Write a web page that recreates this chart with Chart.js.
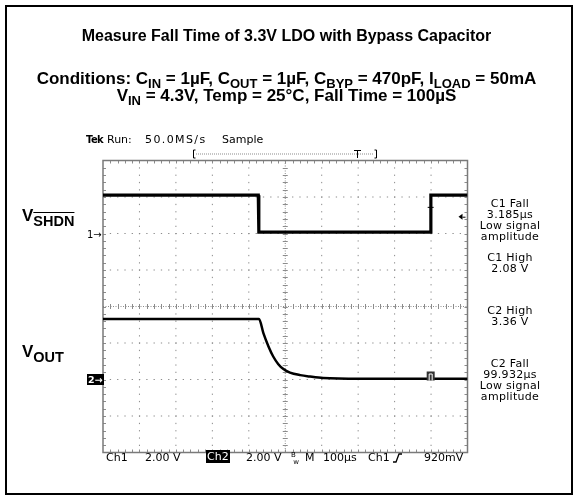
<!DOCTYPE html>
<html>
<head>
<meta charset="utf-8">
<script src="https://cdn.jsdelivr.net/npm/chart.js@4.4.1/dist/chart.umd.min.js"></script>
<style>
html,body{margin:0;padding:0;background:#fff;}
#wrap{position:relative;width:573px;height:495px;overflow:hidden;}
#frame{position:absolute;left:5px;top:5px;width:568px;height:490px;border:2px solid #000;box-sizing:border-box;}
canvas{position:absolute;left:0;top:0;}
.h{position:absolute;left:0;width:573px;text-align:center;white-space:nowrap;font-family:"Liberation Sans",Arial,sans-serif;font-weight:bold;color:#000;line-height:18px;}
.h sub{font-size:13px;vertical-align:-4px;line-height:0;}
.lbl{position:absolute;white-space:nowrap;font-family:"Liberation Sans",Arial,sans-serif;font-weight:bold;font-size:17px;line-height:18px;}
.lbl sub{font-size:14.5px;vertical-align:-5px;line-height:0;}
.s{position:absolute;white-space:nowrap;font-family:"DejaVu Sans",sans-serif;font-size:11px;line-height:11px;color:#000;}
.m{position:absolute;left:460px;width:100px;text-align:center;font-family:"DejaVu Sans",sans-serif;font-size:11px;line-height:11px;letter-spacing:0.3px;}
.inv{background:#000;color:#fff;padding:0 1px;}
</style>
</head>
<body>
<div id="wrap">
  <div id="frame"></div>
  <canvas id="scope" width="573" height="495"></canvas>

  <div class="h" style="top:27px;font-size:16px">Measure Fall Time of 3.3V LDO with Bypass Capacitor</div>
  <div class="h" style="top:70px;font-size:17px">Conditions: C<sub>IN</sub> = 1µF, C<sub>OUT</sub> = 1µF, C<sub>BYP</sub> = 470pF, I<sub>LOAD</sub> = 50mA</div>
  <div class="h" style="top:87px;font-size:17px">V<sub>IN</sub> = 4.3V, Temp = 25°C, Fall Time = 100µS</div>

  <div class="s" style="left:86px;top:134px;font-weight:bold;font-size:10px;letter-spacing:-0.6px">Tek</div>
  <div class="s" style="left:107px;top:134px">Run:</div>
  <div class="s" style="left:145px;top:134px;letter-spacing:1.4px">50.0MS/s</div>
  <div class="s" style="left:222px;top:134px">Sample</div>

  <div class="lbl" style="left:22px;top:207px">V<sub style="text-decoration:overline">SHDN</sub></div>
  <div class="lbl" style="left:22px;top:343px">V<sub>OUT</sub></div>

  <div class="s" style="left:87px;top:229px;font-size:10px">1→</div>
  <div class="s" style="left:87px;top:375px;font-size:9.5px;line-height:10px;font-weight:bold"><span class="inv">2→</span></div>

  <div class="m" style="top:198px">C1 Fall<br>3.185µs<br>Low signal<br>amplitude</div>
  <div class="m" style="top:252px">C1 High<br>2.08 V</div>
  <div class="m" style="top:305px">C2 High<br>3.36 V</div>
  <div class="m" style="top:358px">C2 Fall<br>99.932µs<br>Low signal<br>amplitude</div>

  <div class="s" style="left:106px;top:452px">Ch1</div>
  <div class="s" style="left:145px;top:452px">2.00 V</div>
  <div class="s" style="left:206px;top:451px;line-height:12px"><span class="inv">Ch2</span></div>
  <div class="s" style="left:246px;top:452px">2.00 V</div>
  <div class="s" style="left:291px;top:452px;font-size:7px;line-height:7px">B<br>&nbsp;w</div>
  <div class="s" style="left:305px;top:452px">M</div>
  <div class="s" style="left:323px;top:452px">100µs</div>
  <div class="s" style="left:368px;top:452px">Ch1</div>
  <div class="s" style="left:424px;top:452px">920mV</div>
</div>

<script>
// time in µs (100 µs/div), volts (2 V/div)
const ch1Time = [0, 426, 427.5, 898, 899.5, 1000];
const ch1Volt = [2.1, 2.1, 0.08, 0.08, 2.1, 2.1];
const ch2Time = [0, 428, 440, 454, 467, 481, 495, 513, 541, 568, 604, 705, 1000];
const ch2Volt = [3.31, 3.31, 2.54, 1.81, 1.26, 0.84, 0.57, 0.38, 0.24, 0.16, 0.08, 0.04, 0.04];
const trigLevel = 0.92;   // Ch1 trigger, V
const ch1Marker = [899, 1.46];
const ch2Marker = [899, 0.0];

const pts = (xs, ys) => xs.map((x,i)=>({x, y:ys[i]}));

const scopeGrid = {
  id:'scopeGrid',
  beforeDatasetsDraw(chart){
    const {ctx, chartArea:a, scales} = chart;
    const X = v => scales.x.getPixelForValue(v);
    const dv = (a.bottom-a.top)/8;
    ctx.save();
    ctx.fillStyle = '#8c8c8c';
    // dotted grid lines, a dot every 1/5 division
    for (let i=1;i<10;i++){
      if (i===5) continue;
      const x = X(i*100);
      for (let j=1;j<40;j++) ctx.fillRect(x-0.5, a.top+j*dv/5-0.5, 1, 1.3);
    }
    for (let i=1;i<8;i++){
      if (i===4) continue;
      const y = a.top+i*dv;
      for (let j=1;j<50;j++) ctx.fillRect(X(j*20)-0.5, y-0.5, 1.3, 1);
    }
    // centre cross with minor ticks
    const cx = X(500), cy = a.top+4*dv;
    for (let x=a.left; x<a.right; x+=2.5) ctx.fillRect(x, cy-0.5, 1, 1);
    for (let y=a.top; y<a.bottom; y+=2.5) ctx.fillRect(cx-0.5, y, 1, 1);
    ctx.strokeStyle = '#8c8c8c'; ctx.lineWidth = 1;
    ctx.beginPath();
    for (let j=1;j<50;j++){ const x=Math.round(X(j*20))+0.5; ctx.moveTo(x,cy-2.5); ctx.lineTo(x,cy+2.5);
      ctx.moveTo(x,a.top); ctx.lineTo(x,a.top+3); ctx.moveTo(x,a.bottom); ctx.lineTo(x,a.bottom-3); }
    for (let j=1;j<40;j++){ const y=Math.round(a.top+j*dv/5)+0.5; ctx.moveTo(cx-2.5,y); ctx.lineTo(cx+2.5,y);
      ctx.moveTo(a.left,y); ctx.lineTo(a.left+3,y); ctx.moveTo(a.right,y); ctx.lineTo(a.right-3,y); }
    ctx.stroke();
    // graticule frame
    ctx.strokeStyle = '#7a7a7a'; ctx.lineWidth = 1.5;
    ctx.strokeRect(a.left, a.top, a.right-a.left, a.bottom-a.top);
    ctx.restore();
  },
  afterDatasetsDraw(chart){
    const {ctx, chartArea:a, scales} = chart;
    const X = v => scales.x.getPixelForValue(v);
    ctx.save();
    ctx.strokeStyle = '#000'; ctx.fillStyle = '#000'; ctx.lineWidth = 1;
    // trigger level arrow on right edge
    const ty = scales.y.getPixelForValue(trigLevel);
    ctx.beginPath(); ctx.moveTo(a.right-9, ty); ctx.lineTo(a.right-5, ty-3); ctx.lineTo(a.right-5, ty+3); ctx.closePath(); ctx.fill();
    ctx.beginPath(); ctx.moveTo(a.right-5, ty+0.5); ctx.lineTo(a.right-2, ty+0.5); ctx.stroke();
    // ch1 measurement marker
    const m1x = X(ch1Marker[0]), m1y = scales.y.getPixelForValue(ch1Marker[1]);
    ctx.beginPath(); ctx.moveTo(m1x-3, m1y+0.5); ctx.lineTo(m1x+3, m1y+0.5); ctx.stroke();
    // ch2 measurement marker box
    const m2x = X(ch2Marker[0]), m2y = scales.y2.getPixelForValue(ch2Marker[1]);
    ctx.fillStyle = '#333'; ctx.fillRect(m2x-4, m2y-8, 8, 9);
    ctx.strokeStyle = '#fff'; ctx.beginPath();
    ctx.moveTo(m2x-1.5, m2y+1); ctx.lineTo(m2x-1.5, m2y-5.5); ctx.lineTo(m2x+1.5, m2y-5.5); ctx.lineTo(m2x+1.5, m2y+1); ctx.stroke();
    // record-length bracket above the screen
    ctx.strokeStyle = '#000'; ctx.lineWidth = 1;
    ctx.beginPath();
    ctx.moveTo(195.5,150); ctx.lineTo(193.5,150); ctx.lineTo(193.5,158); ctx.lineTo(195.5,158);
    ctx.moveTo(374.5,150); ctx.lineTo(376.5,150); ctx.lineTo(376.5,158); ctx.lineTo(374.5,158);
    ctx.moveTo(354,150.5); ctx.lineTo(361,150.5); ctx.moveTo(357.5,150); ctx.lineTo(357.5,158);
    ctx.stroke();
    ctx.fillStyle = '#8c8c8c';
    for (let x=196; x<374; x+=2) ctx.fillRect(x, 153.5, 1, 1);
    // rising edge symbol in readout
    ctx.strokeStyle = '#000'; ctx.lineWidth = 1.3;
    ctx.beginPath(); ctx.moveTo(393,462); ctx.lineTo(396,462); ctx.lineTo(399,454); ctx.lineTo(402,454); ctx.stroke();
    ctx.restore();
  }
};

new Chart(document.getElementById('scope'), {
  type:'line',
  data:{ datasets:[
    { label:'Ch1', data:pts(ch1Time, ch1Volt), yAxisID:'y', borderColor:'#000', borderWidth:3.2, pointRadius:0, tension:0 },
    { label:'Ch2', data:pts(ch2Time, ch2Volt), yAxisID:'y2', borderColor:'#000', borderWidth:2.5, pointRadius:0, cubicInterpolationMode:'monotone' }
  ]},
  options:{
    responsive:false, animation:false, devicePixelRatio:1,
    layout:{ padding:{ left:103, top:160.5, right:105.5, bottom:42.5 } },
    plugins:{ legend:{display:false}, tooltip:{enabled:false} },
    scales:{
      x:{ type:'linear', min:0, max:1000, display:false },
      y:{ type:'linear', min:-12, max:4, display:false },
      y2:{ type:'linear', min:-4, max:12, display:false }
    }
  },
  plugins:[scopeGrid]
});
</script>
</body>
</html>
